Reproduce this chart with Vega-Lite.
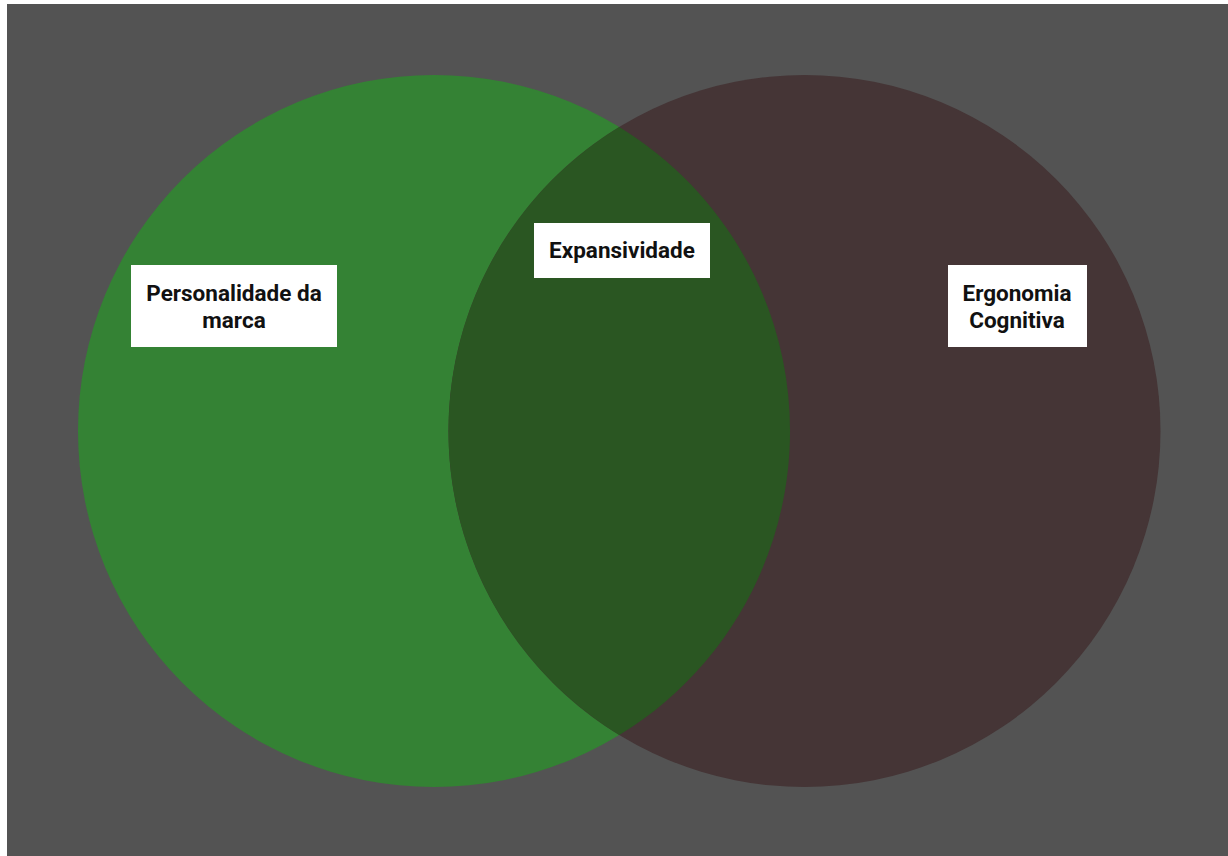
{
  "$schema": "https://vega.github.io/schema/vega-lite/v6.json",
  "width": 1221,
  "height": 852,
  "autosize": {"type": "none"},
  "padding": {"left": 7, "top": 4, "right": 0, "bottom": 0},
  "background": "#ffffff",
  "config": {"view": {"fill": "#535353", "stroke": null}},
  "datasets": {
    "circles": [
      {"set": "Personalidade da marca", "cx": 434, "cy": 431},
      {"set": "Ergonomia Cognitiva", "cx": 804.5, "cy": 431}
    ],
    "overlap": [
      {"set": "Expansividade", "cx": 619.25, "cy": 431}
    ],
    "labels": [
      {"text": ["Personalidade da", "marca"], "tx": 234, "ty": 294, "bx1": 131, "bx2": 337, "by1": 265, "by2": 347},
      {"text": ["Expansividade"], "tx": 622, "ty": 251, "bx1": 534, "bx2": 710, "by1": 223, "by2": 278},
      {"text": ["Ergonomia", "Cognitiva"], "tx": 1017, "ty": 294, "bx1": 948, "bx2": 1087, "by1": 265, "by2": 347}
    ]
  },
  "layer": [
    {
      "data": {"name": "circles"},
      "mark": {"type": "point", "shape": "circle", "filled": true, "opacity": 1, "strokeWidth": 0, "size": 506944},
      "encoding": {
        "x": {"field": "cx", "type": "quantitative", "scale": {"domain": [7, 1228], "nice": false, "zero": false}, "axis": null},
        "y": {"field": "cy", "type": "quantitative", "scale": {"domain": [856, 4], "nice": false, "zero": false}, "axis": null},
        "color": {"field": "set", "type": "nominal", "scale": {"domain": ["Personalidade da marca", "Ergonomia Cognitiva"], "range": ["#348234", "#453536"]}, "legend": null}
      }
    },
    {
      "data": {"name": "overlap"},
      "mark": {"type": "point", "shape": "M0,-0.854A1,1,0,0,0,0,0.854A1,1,0,0,0,0,-0.854Z", "filled": true, "opacity": 1, "strokeWidth": 0, "color": "#2a5622", "size": 506944},
      "encoding": {
        "x": {"field": "cx", "type": "quantitative"},
        "y": {"field": "cy", "type": "quantitative"}
      }
    },
    {
      "data": {"name": "labels"},
      "mark": {"type": "rect", "color": "#ffffff"},
      "encoding": {
        "x": {"field": "bx1", "type": "quantitative"},
        "x2": {"field": "bx2"},
        "y": {"field": "by1", "type": "quantitative"},
        "y2": {"field": "by2"}
      }
    },
    {
      "data": {"name": "labels"},
      "mark": {"type": "text", "font": "Roboto", "fontWeight": "bold", "fontSize": 22.5, "lineHeight": 27, "align": "center", "baseline": "middle", "color": "#111111"},
      "encoding": {
        "x": {"field": "tx", "type": "quantitative"},
        "y": {"field": "ty", "type": "quantitative"},
        "text": {"field": "text"}
      }
    }
  ]
}
